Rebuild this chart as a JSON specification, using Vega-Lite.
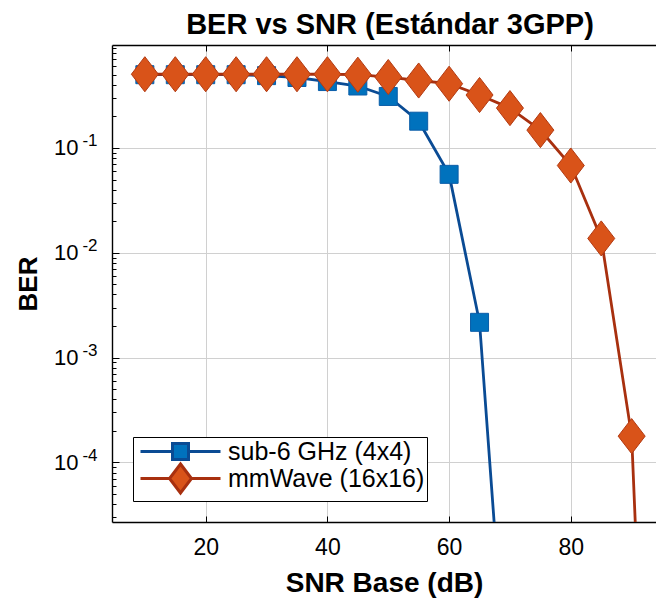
{
  "$schema": "https://vega.github.io/schema/vega-lite/v6.json",
  "autosize": {"type": "none"},
  "padding": {"left": 112, "top": 45, "right": 0, "bottom": 79},
  "width": 544,
  "height": 477,
  "background": "white",
  "config": {
    "font": "Liberation Sans",
    "view": {"stroke": null},
    "axis": {
      "labelColor": "black",
      "titleColor": "black",
      "domainColor": "black",
      "tickColor": "black",
      "gridColor": "#d0d0d0",
      "gridWidth": 1,
      "domainWidth": 1.4,
      "tickWidth": 1,
      "labelFont": "Liberation Sans",
      "titleFont": "Liberation Sans"
    },
    "legend": {
      "title": null,
      "orient": "bottom-left",
      "offset": 21,
      "fillColor": "white",
      "strokeColor": "black",
      "padding": 2,
      "labelFontSize": 25,
      "labelFont": "Liberation Sans",
      "labelColor": "black",
      "labelLimit": 0,
      "symbolSize": 400,
      "symbolStrokeWidth": 3,
      "symbolOpacity": 1,
      "symbolOffset": 33,
      "labelOffset": 35,
      "rowPadding": -8
    }
  },
  "title": {
    "text": "BER vs SNR (Estándar 3GPP)",
    "fontSize": 29,
    "fontWeight": "bold",
    "font": "Liberation Sans",
    "color": "black",
    "anchor": "middle",
    "offset": 5,
    "dx": 6
  },
  "data": {
    "values": [
      {"snr": 10, "ber": 0.5, "series": "sub-6 GHz (4x4)"},
      {"snr": 15, "ber": 0.5, "series": "sub-6 GHz (4x4)"},
      {"snr": 20, "ber": 0.5, "series": "sub-6 GHz (4x4)"},
      {"snr": 25, "ber": 0.5, "series": "sub-6 GHz (4x4)"},
      {"snr": 30, "ber": 0.49, "series": "sub-6 GHz (4x4)"},
      {"snr": 35, "ber": 0.47, "series": "sub-6 GHz (4x4)"},
      {"snr": 40, "ber": 0.43, "series": "sub-6 GHz (4x4)"},
      {"snr": 45, "ber": 0.39, "series": "sub-6 GHz (4x4)"},
      {"snr": 50, "ber": 0.31, "series": "sub-6 GHz (4x4)"},
      {"snr": 55, "ber": 0.18, "series": "sub-6 GHz (4x4)"},
      {"snr": 60, "ber": 0.056, "series": "sub-6 GHz (4x4)"},
      {"snr": 65, "ber": 0.00217, "series": "sub-6 GHz (4x4)"},
      {"snr": 70, "ber": 2.3e-7, "series": "sub-6 GHz (4x4)"},
      {"snr": 10, "ber": 0.505, "series": "mmWave (16x16)"},
      {"snr": 15, "ber": 0.505, "series": "mmWave (16x16)"},
      {"snr": 20, "ber": 0.505, "series": "mmWave (16x16)"},
      {"snr": 25, "ber": 0.505, "series": "mmWave (16x16)"},
      {"snr": 30, "ber": 0.505, "series": "mmWave (16x16)"},
      {"snr": 35, "ber": 0.505, "series": "mmWave (16x16)"},
      {"snr": 40, "ber": 0.505, "series": "mmWave (16x16)"},
      {"snr": 45, "ber": 0.5, "series": "mmWave (16x16)"},
      {"snr": 50, "ber": 0.475, "series": "mmWave (16x16)"},
      {"snr": 55, "ber": 0.44, "series": "mmWave (16x16)"},
      {"snr": 60, "ber": 0.41, "series": "mmWave (16x16)"},
      {"snr": 65, "ber": 0.32, "series": "mmWave (16x16)"},
      {"snr": 70, "ber": 0.24, "series": "mmWave (16x16)"},
      {"snr": 75, "ber": 0.148, "series": "mmWave (16x16)"},
      {"snr": 80, "ber": 0.068, "series": "mmWave (16x16)"},
      {"snr": 85, "ber": 0.0137, "series": "mmWave (16x16)"},
      {"snr": 90, "ber": 0.000178, "series": "mmWave (16x16)"},
      {"snr": 95, "ber": 2e-11, "series": "mmWave (16x16)"}
    ]
  },
  "layer": [
    {
      "transform": [{"filter": "datum.series === 'sub-6 GHz (4x4)'"}],
      "mark": {"type": "line", "strokeWidth": 2.8, "clip": true},
      "encoding": {
        "x": {"field": "snr", "type": "quantitative", "scale": {"domain": [4.6, 94], "nice": false, "zero": false},
          "axis": {"orient": "bottom", "values": [20, 40, 60, 80], "grid": true, "tickSize": -6, "labelFontSize": 23, "labelPadding": 20, "title": "SNR Base (dB)", "titleFontSize": 28, "titleFontWeight": "bold", "titlePadding": 10}},
        "y": {"field": "ber", "type": "quantitative", "scale": {"type": "log", "domain": [2.7e-5, 0.96], "nice": false, "zero": false},
          "axis": {"orient": "left", "values": [0.0001, 0.001, 0.01, 0.1], "grid": true, "ticks": false, "labelFontSize": 22, "labelPadding": 34, "labelExpr": "'10'", "title": "BER", "titleFontSize": 26, "titleFontWeight": "bold", "titlePadding": 12}},
        "stroke": {"field": "series", "type": "nominal",
          "scale": {"domain": ["sub-6 GHz (4x4)", "mmWave (16x16)"], "range": ["#0A4B94", "#A8300F"]}}
      }
    },
    {
      "transform": [{"filter": "datum.series === 'sub-6 GHz (4x4)'"}],
      "mark": {"type": "point", "filled": true, "shape": "square", "size": 324, "fill": "#0072BD", "stroke": "#0A5DA8", "strokeWidth": 1, "opacity": 1, "clip": true},
      "encoding": {
        "x": {"field": "snr", "type": "quantitative", "axis": {"orient": "top", "values": [20, 40, 60, 80], "labels": false, "grid": false, "tickSize": -6, "title": null}},
        "y": {"field": "ber", "type": "quantitative", "axis": {"orient": "left", "values": [3e-5, 4e-5, 5e-5, 6e-5, 7e-5, 8e-5, 9e-5, 2e-4, 3e-4, 4e-4, 5e-4, 6e-4, 7e-4, 8e-4, 9e-4, 2e-3, 3e-3, 4e-3, 5e-3, 6e-3, 7e-3, 8e-3, 9e-3, 0.02, 0.03, 0.04, 0.05, 0.06, 0.07, 0.08, 0.09, 0.2, 0.3, 0.4, 0.5, 0.6, 0.7, 0.8, 0.9], "labels": false, "grid": false, "domain": false, "tickSize": -4, "title": null}}
      }
    },
    {
      "transform": [{"filter": "datum.series === 'mmWave (16x16)'"}],
      "mark": {"type": "line", "strokeWidth": 2.8, "clip": true},
      "encoding": {
        "x": {"field": "snr", "type": "quantitative", "axis": null},
        "y": {"field": "ber", "type": "quantitative", "axis": {"orient": "left", "values": [0.0001, 0.001, 0.01, 0.1], "grid": false, "ticks": false, "domain": false, "labelFontSize": 17, "labelPadding": 15, "labelOffset": -7, "labelExpr": "'-' + round(-log(datum.value) / LN10)", "title": null}},
        "stroke": {"field": "series", "type": "nominal"}
      }
    },
    {
      "transform": [{"filter": "datum.series === 'mmWave (16x16)'"}],
      "mark": {"type": "point", "filled": true, "shape": "M0,-1.3L1,0L0,1.3L-1,0Z", "size": 729, "fill": "#D95319", "stroke": "#B23A12", "strokeWidth": 1, "opacity": 1, "clip": true},
      "encoding": {
        "x": {"field": "snr", "type": "quantitative", "axis": null},
        "y": {"field": "ber", "type": "quantitative", "axis": {"orient": "left", "values": [0.0001, 0.001, 0.01, 0.1], "labels": false, "grid": false, "domain": false, "tickSize": -7, "title": null}}
      }
    },
    {
      "mark": {"type": "point", "filled": true, "opacity": 0, "clip": true},
      "encoding": {
        "x": {"field": "snr", "type": "quantitative", "axis": null},
        "y": {"field": "ber", "type": "quantitative", "axis": null},
        "stroke": {"field": "series", "type": "nominal"},
        "fill": {"field": "series", "type": "nominal",
          "scale": {"domain": ["sub-6 GHz (4x4)", "mmWave (16x16)"], "range": ["#0072BD", "#D95319"]}},
        "shape": {"field": "series", "type": "nominal",
          "scale": {"domain": ["sub-6 GHz (4x4)", "mmWave (16x16)"], "range": ["M-4,0H-0.8M0.8,0H4M-0.8,-0.8H0.8V0.8H-0.8Z", "M-4,0H-1.1M1.1,0H4M0,-1.45L1.1,0L0,1.45L-1.1,0Z"]}}
      }
    }
  ],
  "resolve": {"axis": {"x": "independent", "y": "independent"}}
}
